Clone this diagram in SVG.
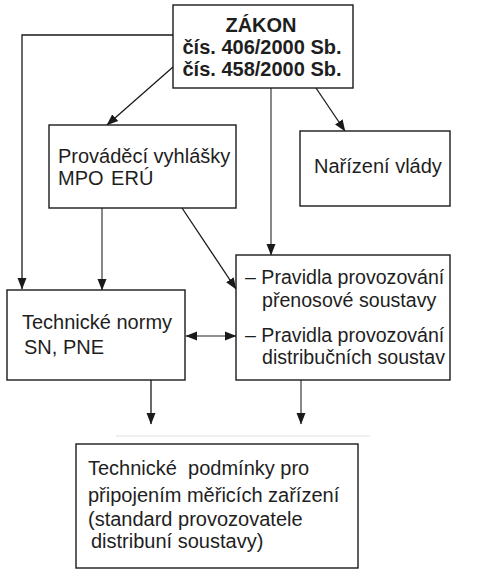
<svg xmlns="http://www.w3.org/2000/svg" width="478" height="587" viewBox="0 0 478 587">
<style>
.box{fill:#fff;stroke:#1a1a1a;stroke-width:1.4}
.t{font-family:"Liberation Sans",Arial,sans-serif;font-size:20px;fill:#1e1e1e}
.s{font-size:19.6px}
.b{font-weight:bold}
.c{fill:none;stroke:#1a1a1a;stroke-width:1.3}
.g{stroke:#6a6a6a;stroke-width:1.6}
</style>
<defs>
<marker id="ah" markerUnits="userSpaceOnUse" markerWidth="12" markerHeight="10" viewBox="0 0 12 10" refX="11" refY="5" orient="auto-start-reverse">
<path d="M0,0.5 L11.5,5 L0,9.5 Z" fill="#1a1a1a"/>
</marker>
</defs>
<rect width="478" height="587" fill="#fff"/>
<g id="connectors">
<path class="c" d="M173 35 H22 V289" marker-end="url(#ah)"/>
<path class="c" d="M173 67 L107 125" marker-end="url(#ah)"/>
<path class="c" d="M316 88 L345 131" marker-end="url(#ah)"/>
<path class="c g" d="M271 88 V255" marker-end="url(#ah)"/>
<path class="c g" d="M102 208 V290" marker-end="url(#ah)"/>
<path class="c" d="M182 208 L236 289" marker-end="url(#ah)"/>
<path class="c g" d="M186 336 H236" marker-start="url(#ah)" marker-end="url(#ah)"/>
<path class="c" d="M151 380 V424" marker-end="url(#ah)"/>
<path class="c g" d="M301 380 V424" marker-end="url(#ah)"/>
<path d="M116 436 H370" stroke="#e0e0e0" stroke-width="1" fill="none"/>
</g>
<g id="zakon">
<rect class="box" x="173" y="5" width="180" height="83"/>
<text class="t b" x="261" y="32" text-anchor="middle">ZÁKON</text>
<text class="t b" x="262" y="54" text-anchor="middle">čís. 406/2000 Sb.</text>
<text class="t b" x="262" y="76" text-anchor="middle">čís. 458/2000 Sb.</text>
</g>
<g id="vyhlasky">
<rect class="box" x="49" y="125" width="187" height="83"/>
<text class="t" x="58" y="163">Prováděcí vyhlášky</text>
<text class="t" x="58" y="185" word-spacing="2">MPO ERÚ</text>
</g>
<g id="narizeni">
<rect class="box" x="300" y="131" width="150" height="75"/>
<text class="t" x="314" y="173">Nařízení vlády</text>
</g>
<g id="normy">
<rect class="box" x="7" y="290" width="178" height="90"/>
<text class="t" x="22" y="329">Technické normy</text>
<text class="t" x="24" y="354">SN, PNE</text>
</g>
<g id="pravidla">
<rect class="box" x="236" y="255" width="214" height="125"/>
<text class="t s" x="245" y="284">– Pravidla provozování</text>
<text class="t s" x="262" y="307">přenosové soustavy</text>
<text class="t s" x="245" y="342">– Pravidla provozování</text>
<text class="t s" x="262" y="364">distribučních soustav</text>
</g>
<g id="podminky">
<rect class="box" x="76" y="444" width="282" height="124"/>
<text class="t" x="88" y="475" xml:space="preserve">Technické  podmínky pro</text>
<text class="t" x="88" y="502">připojením měřicích zařízení</text>
<text class="t" x="88" y="526">(standard provozovatele</text>
<text class="t" x="91" y="548">distribuní soustavy)</text>
</g>
</svg>
